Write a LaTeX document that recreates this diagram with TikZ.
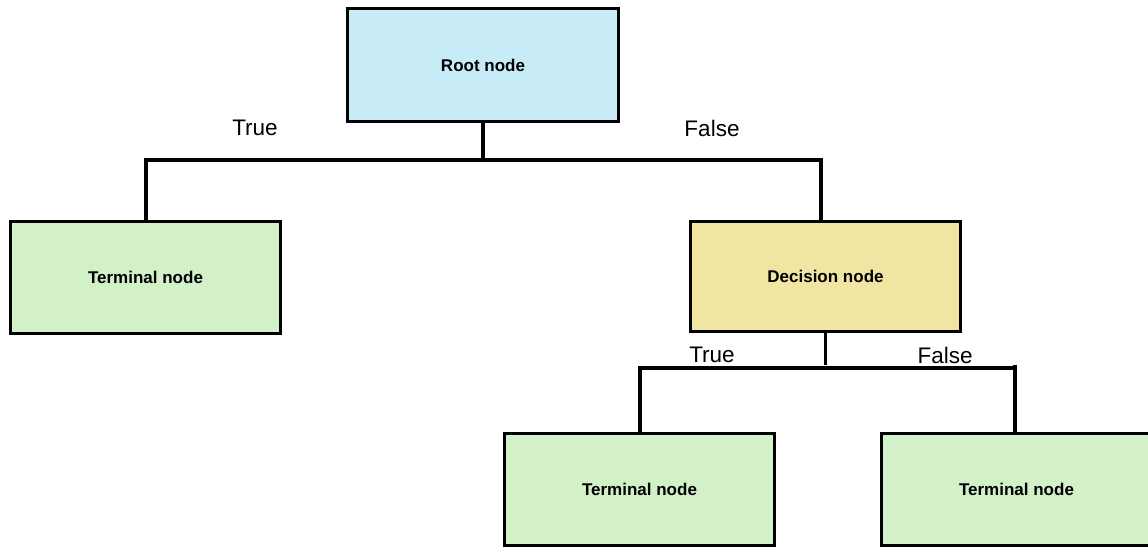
\documentclass[tikz,border=0pt]{standalone}
\usepackage{fontspec}
\setmainfont{Liberation Sans}
\definecolor{rootblue}{HTML}{C8ECF7}
\definecolor{termgreen}{HTML}{D2F1C9}
\definecolor{decyellow}{HTML}{F1E5A3}
\tikzset{
  box/.style={draw=black, line width=3.5pt, minimum width=270pt, minimum height=112pt, inner sep=0pt, font=\fontsize{17}{20}\selectfont\bfseries},
  rootbox/.style={box, fill=rootblue},
  termbox/.style={box, fill=termgreen},
  decbox/.style={box, fill=decyellow},
  link/.style={line width=3.5pt},
  lbl/.style={font=\fontsize{22.5}{27}\selectfont, inner sep=0pt}
}
\begin{document}
\begin{tikzpicture}[x=1pt,y=-1pt]
\useasboundingbox (0,0) rectangle (1148,549);
\node[rootbox, minimum width=271pt, minimum height=113pt] (root) at (483,65) {Root node};
\node[termbox] (t1) at (145.5,277.5) {Terminal node};
\node[decbox, minimum height=110pt] (dec) at (825.5,276.5) {Decision node};
\node[termbox] (t2) at (639.5,489.5) {Terminal node};
\node[termbox] (t3) at (1016.5,489.5) {Terminal node};
\coordinate (jl) at (146,160);
\coordinate (jr) at (821,160);
\coordinate (kl) at (640,368);
\coordinate (kr) at (1015,368);
\draw[link] (root.south) -- (root.south |- jl);
\draw[link, line cap=rect] (jl) -- (jr);
\draw[link] (jl) -- (jl |- t1.north);
\draw[link] (jr) -- (jr |- dec.north);
\draw[link] (dec.south) -- ([yshift=3pt]dec.south |- kl);
\draw[link, line cap=rect] (kl) -- (kr);
\draw[link] (kl) -- (kl |- t2.north);
\draw[link] ([yshift=3pt]kr) -- (kr |- t3.north);
\node[lbl] (l1) at (255,128) {True};
\node[lbl] (l2) at (712,128) {False};
\node[lbl] (l3) at (712,355) {True};
\node[lbl] (l4) at (945,355) {False};
\end{tikzpicture}
\end{document}
